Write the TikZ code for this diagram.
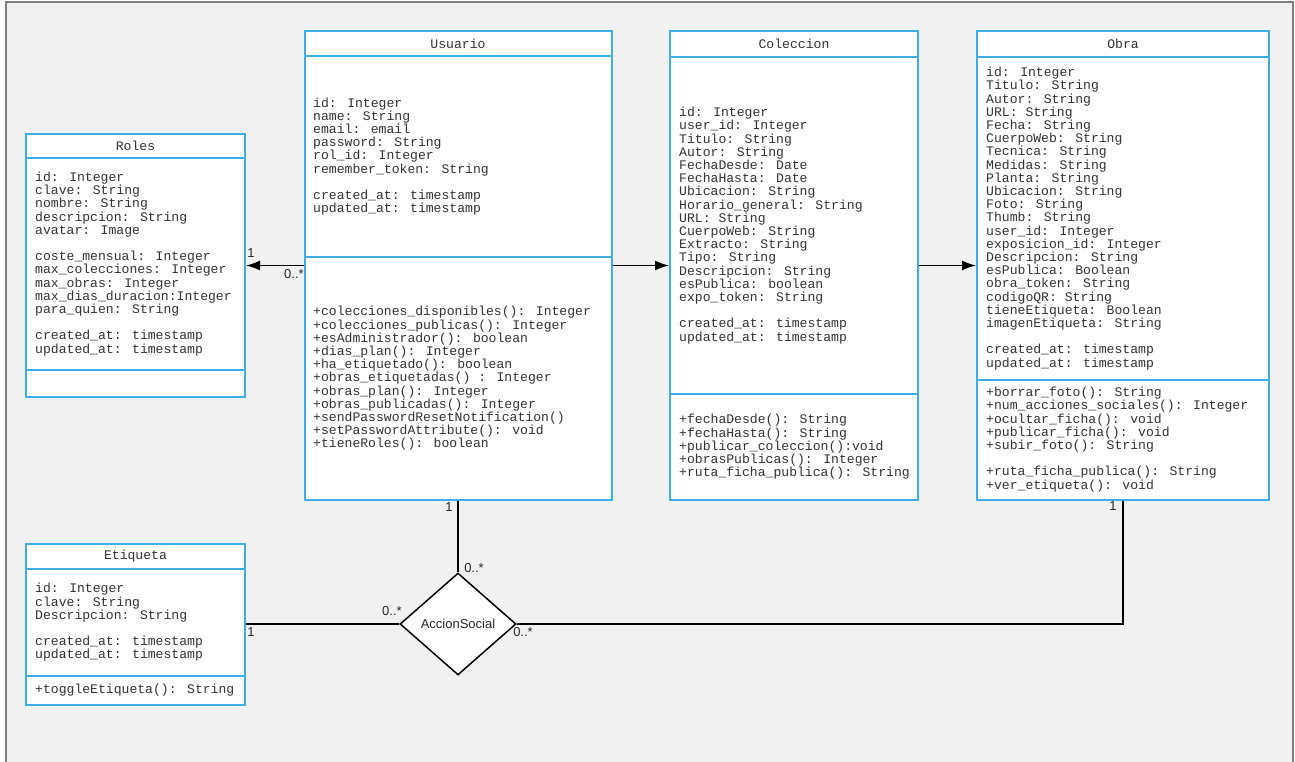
\documentclass[tikz,border=0pt]{standalone}
\usepackage{fontspec}
\setmainfont{Liberation Sans}
\newfontfamily\monof{Liberation Mono}
\usetikzlibrary{arrows.meta,shapes.geometric}
\definecolor{umlblue}{RGB}{64,174,230}
\definecolor{txtgray}{RGB}{50,50,50}
\definecolor{bggray}{RGB}{241,241,241}
\definecolor{framegray}{RGB}{128,128,128}
\tikzset{
  cls/.style={draw=umlblue, line width=2pt, fill=white, inner sep=0pt},
  sect/.style={draw=umlblue, line width=2pt},
  mono/.style={inner sep=0pt, text=txtgray, font=\monof\fontsize{13.1}{13.2}\selectfont, align=left, anchor=west},
  clstitle/.style={inner sep=0pt, text=txtgray, font=\monof\fontsize{13.1}{13.2}\selectfont},
  link/.style={draw=black, line width=1.5pt},
  arr/.style={link, -{Latex[length=14pt,width=10pt]}},
  mult/.style={inner sep=0pt, font=\fontsize{13}{14}\selectfont, text=black!85},
  relbox/.style={draw=black, line width=1.5pt, fill=white, shape=diamond, aspect=1.14,
    minimum width=116pt, minimum height=102pt, inner sep=0pt,
    font=\fontsize{13}{15}\selectfont, text=black!85},
}
\begin{document}
\begin{tikzpicture}[x=1pt,y=-1pt]
\useasboundingbox (0,0) rectangle (1295,762);
\fill[white] (0,0) rectangle (1295,762);
\draw[framegray, line width=2pt, fill=bggray] (6,2) rectangle (1293,790);

% Roles
\node[cls, minimum width=219pt, minimum height=263pt] (roles) at (135.5,265.5) {};
\draw[sect] (26,158) -- (245,158);
\draw[sect] (26,370) -- (245,370);
\node[clstitle] (roles-t) at (135.5,146) {Roles};
\node[mono] (roles-a) at (35,264) {id: Integer\\clave: String\\nombre: String\\descripcion: String\\avatar: Image\\[13.2pt]coste\_mensual: Integer\\max\_colecciones: Integer\\max\_obras: Integer\\max\_dias\_duracion:Integer\\para\_quien: String\\[13.2pt]created\_at: timestamp\\updated\_at: timestamp};

% Usuario
\node[cls, minimum width=307pt, minimum height=469pt] (usuario) at (458,265.5) {};
\draw[sect] (304.5,56) -- (611.5,56);
\draw[sect] (304.5,257) -- (611.5,257);
\node[clstitle] (usuario-t) at (458,43.5) {Usuario};
\node[mono] (usuario-a) at (313,156.5) {id: Integer\\name: String\\email: email\\password: String\\rol\_id: Integer\\remember\_token: String\\[13.2pt]created\_at: timestamp\\updated\_at: timestamp};
\node[mono] (usuario-m) at (313,378.5) {+colecciones\_disponibles(): Integer\\+colecciones\_publicas(): Integer\\+esAdministrador(): boolean\\+dias\_plan(): Integer\\+ha\_etiquetado(): boolean\\+obras\_etiquetadas() : Integer\\+obras\_plan(): Integer\\+obras\_publicadas(): Integer\\+sendPasswordResetNotification()\\+setPasswordAttribute(): void\\+tieneRoles(): boolean};

% Coleccion
\node[cls, minimum width=248pt, minimum height=469pt] (coleccion) at (794,265.5) {};
\draw[sect] (670,57) -- (918,57);
\draw[sect] (670,394) -- (918,394);
\node[clstitle] (coleccion-t) at (794,44) {Coleccion};
\node[mono] (coleccion-a) at (679,225.5) {id: Integer\\user\_id: Integer\\Titulo: String\\Autor: String\\FechaDesde: Date\\FechaHasta: Date\\Ubicacion: String\\Horario\_general: String\\URL: String\\CuerpoWeb: String\\Extracto: String\\Tipo: String\\Descripcion: String\\esPublica: boolean\\expo\_token: String\\[13.2pt]created\_at: timestamp\\updated\_at: timestamp};
\node[mono] (coleccion-m) at (679,447) {+fechaDesde(): String\\+fechaHasta(): String\\+publicar\_coleccion():void\\+obrasPublicas(): Integer\\+ruta\_ficha\_publica(): String};

% Obra
\node[cls, minimum width=292pt, minimum height=468pt] (obra) at (1123,265.5) {};
\draw[sect] (977,57) -- (1269,57);
\draw[sect] (977,380) -- (1269,380);
\node[clstitle] (obra-t) at (1123,44) {Obra};
\node[mono] (obra-a) at (986,218.5) {id: Integer\\Titulo: String\\Autor: String\\URL: String\\Fecha: String\\CuerpoWeb: String\\Tecnica: String\\Medidas: String\\Planta: String\\Ubicacion: String\\Foto: String\\Thumb: String\\user\_id: Integer\\exposicion\_id: Integer\\Descripcion: String\\esPublica: Boolean\\obra\_token: String\\codigoQR: String\\tieneEtiqueta: Boolean\\imagenEtiqueta: String\\[13.2pt]created\_at: timestamp\\updated\_at: timestamp};
\node[mono] (obra-m) at (986,439.5) {+borrar\_foto(): String\\+num\_acciones\_sociales(): Integer\\+ocultar\_ficha(): void\\+publicar\_ficha(): void\\+subir\_foto(): String\\[13.2pt]+ruta\_ficha\_publica(): String\\+ver\_etiqueta(): void};

% Etiqueta
\node[cls, minimum width=219pt, minimum height=161pt] (etiqueta) at (135.5,624) {};
\draw[sect] (26,569) -- (245,569);
\draw[sect] (26,676) -- (245,676);
\node[clstitle] (etiqueta-t) at (135.5,556) {Etiqueta};
\node[mono] (etiqueta-a) at (35,622.5) {id: Integer\\clave: String\\Descripcion: String\\[13.2pt]created\_at: timestamp\\updated\_at: timestamp};
\node[mono] (etiqueta-m) at (35,690) {+toggleEtiqueta(): String};

% Association class
\node[relbox] (accion) at (458,624) {AccionSocial};

% Connectors
\draw[arr] (usuario.west) -- (roles.east);
\draw[arr] (usuario.east) -- (coleccion.west);
\draw[arr] (coleccion.east) -- (obra.west);
\draw[link] (usuario.south) -- (accion.north);
\draw[link] (etiqueta.east) -- (accion.west);
\draw[link] (accion.east) -| (obra.south);

% Multiplicities
\node[mult] (m-roles) at (251,253) {1};
\node[mult] (m-usr-roles) at (294,274) {0..*};
\node[mult] (m-usr-acc) at (449,507) {1};
\node[mult] (m-acc-usr) at (474,568) {0..*};
\node[mult] (m-eti) at (251,632) {1};
\node[mult] (m-acc-eti) at (392,611) {0..*};
\node[mult] (m-obra) at (1113,506) {1};
\node[mult] (m-acc-obra) at (523,632) {0..*};
\end{tikzpicture}
\end{document}
